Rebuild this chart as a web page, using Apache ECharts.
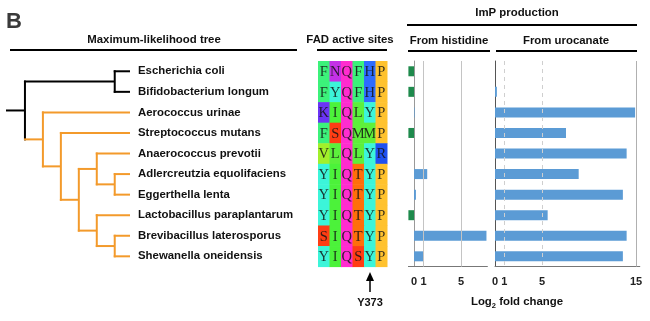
<!DOCTYPE html>
<html><head><meta charset="utf-8">
<script src="https://cdn.jsdelivr.net/npm/echarts@6/dist/echarts.min.js"></script>
<style>html,body{margin:0;padding:0;background:#fff}#c{width:650px;height:321px}</style>
</head><body><div id="c"></div>
<script>
// ---------- data ----------
const species = ['Escherichia coli','Bifidobacterium longum','Aerococcus urinae','Streptococcus mutans','Anaerococcus prevotii','Adlercreutzia equolifaciens','Eggerthella lenta','Lactobacillus paraplantarum','Brevibacillus laterosporus','Shewanella oneidensis'];
const fadSites = ['FNQFHP','FYQFHP','KIQLYP','FSQMMP','VLQLYR','YIQTYP','YIQTYP','YIQTYP','SIQTYP','YIQSYP'];
const siteColumns = ['1','2','3','4','5','6'];
const histidine = [-0.6,-0.6,0.06,-0.6,null,1.4,0.2,-0.6,7.7,1.05];
const urocanate = [null,0.2,14.9,7.55,14.0,8.9,13.6,5.6,14.0,13.6];
const histTicks = [0,1,5];
const uroTicks = [0,1,5,15];
const histGridLines = [1,5];
const uroDashedLines = [1,5];
const uroSolidLines = [15];
// tree: internal nodes [id, depth, parent]
const treeNodes = [['root',0,null],['n1',5,'root'],['n2',1,'root'],['n3',2,'n2'],['n4',3,'n3'],['n5',4,'n4'],['n6',5,'n5'],['n7',4,'n4'],['n8',5,'n7']];
const leafParents = ['n1','n1','n2','n3','n5','n6','n6','n7','n8','n8'];
const leafDepth = 5.85;
const rootStubDepth = -1;
const highlightClade = 'n2';

// ---------- styles ----------
const residueColors = {F:'#3cf27a',N:'#c431e6',Q:'#ff2ccf',H:'#2e6cff',P:'#ffc22e',Y:'#3cf5d9',K:'#6b34f5',I:'#4cf23a',L:'#5cf03c',M:'#5ef03a',S:'#ff3d14',V:'#a2f02a',R:'#2050f0',T:'#ff6f0a'};
const BLUE = '#5b9bd5', GREEN = '#1e8a4c', ORANGE = '#f39a2b';
const FONT = '"Liberation Sans", Arial, sans-serif';
const TOP = 61, H = 205.6;

// ---------- tree geometry from data ----------
const nodeInfo = {};
treeNodes.forEach(([id, depth, parent]) => nodeInfo[id] = {id, depth, parent, children: []});
treeNodes.forEach(([id, depth, parent]) => { if (parent) nodeInfo[parent].children.push({type:'node', id}); });
leafParents.forEach((p, i) => nodeInfo[p].children.push({type:'leaf', idx: i}));
function inClade(id) { let c = id; while (c) { if (c === highlightClade) return true; c = nodeInfo[c].parent; } return false; }
function nodeY(id) {
  const ys = nodeInfo[id].children.map(ch => ch.type === 'leaf' ? ch.idx : nodeY(ch.id));
  return (Math.min(...ys) + Math.max(...ys)) / 2;
}
const segments = [];
treeNodes.forEach(([id, depth]) => {
  const col = inClade(id) ? 1 : 0;
  const ys = nodeInfo[id].children.map(ch => ch.type === 'leaf' ? ch.idx : nodeY(ch.id));
  segments.push([depth, Math.min(...ys), depth, Math.max(...ys), col]);
  nodeInfo[id].children.forEach(ch => {
    if (ch.type === 'leaf') segments.push([depth, ch.idx, leafDepth, ch.idx, col]);
    else segments.push([depth, nodeY(ch.id), nodeInfo[ch.id].depth, nodeY(ch.id), inClade(ch.id) ? 1 : 0]);
  });
});
segments.push([rootStubDepth, nodeY('root'), 0, nodeY('root'), 0]);

const alignData = [];
fadSites.forEach((s, r) => s.split('').forEach((ch, c) => alignData.push([c, r, ch])));

const chart = echarts.init(document.getElementById('c'), null, {renderer: 'canvas'});
const barLabel = {show: true, fontFamily: FONT, fontWeight: 'bold', fontSize: 11, color: '#222', margin: 10};
const HF = 'bold 11.4px ' + FONT;

chart.setOption({
  animation: false,
  grid: [
    {left: 7, width: 123, top: TOP, height: H},
    {left: 318, width: 69, top: TOP, height: H},
    {left: 408.4, width: 79, top: TOP, height: H},
    {left: 495, width: 144.8, top: TOP, height: H}
  ],
  xAxis: [
    {gridIndex: 0, type: 'value', min: rootStubDepth, max: leafDepth, show: false},
    {gridIndex: 1, type: 'category', data: siteColumns, show: false},
    {gridIndex: 2, type: 'value', min: -0.6, max: 7.8, splitLine: {show: false}, axisTick: {show: false},
     axisLine: {show: true, onZero: false, lineStyle: {color: '#777', width: 1}},
     axisLabel: Object.assign({customValues: histTicks}, barLabel)},
    {gridIndex: 3, type: 'value', min: 0, max: 15.4, splitLine: {show: false}, axisTick: {show: false},
     axisLine: {show: true, onZero: false, lineStyle: {color: '#777', width: 1}},
     axisLabel: Object.assign({customValues: uroTicks}, barLabel)}
  ],
  yAxis: [
    {gridIndex: 0, type: 'value', min: -0.5, max: 9.5, inverse: true, show: false},
    {gridIndex: 0, type: 'category', data: species, inverse: true, position: 'right',
     axisLine: {show: false}, axisTick: {show: false},
     axisLabel: {margin: 8, fontFamily: FONT, fontWeight: 'bold', fontSize: 11.4, color: '#111'}},
    {gridIndex: 1, type: 'category', data: species, inverse: true, show: false},
    {gridIndex: 2, type: 'category', data: species, inverse: true, axisTick: {show: false}, axisLabel: {show: false},
     axisLine: {show: true, onZero: true, lineStyle: {color: '#999', width: 1}}},
    {gridIndex: 3, type: 'category', data: species, inverse: true, axisTick: {show: false}, axisLabel: {show: false},
     axisLine: {show: true, onZero: true, lineStyle: {color: '#555', width: 1}}}
  ],
  series: [
    {type: 'custom', xAxisIndex: 0, yAxisIndex: 0, data: segments, encode: {x: [0, 2], y: [1, 3]},
     renderItem: (params, api) => {
       const a = api.coord([api.value(0), api.value(1)]);
       const b = api.coord([api.value(2), api.value(3)]);
       const ext = 1;
       let x1 = a[0], y1 = a[1], x2 = b[0], y2 = b[1];
       if (x1 === x2) { y1 -= ext; y2 += ext; } else { x1 -= ext; }
       return {type: 'line', shape: {x1, y1, x2, y2},
         style: {stroke: api.value(4) ? ORANGE : '#000', lineWidth: 2}};
     }},
    {type: 'custom', xAxisIndex: 1, yAxisIndex: 2, data: alignData,
     renderItem: (params, api) => {
       const p = api.coord([api.value(0), api.value(1)]);
       const s = api.size([1, 1]);
       const ch = alignData[params.dataIndex][2];
       return {type: 'group', children: [
         {type: 'rect', shape: {x: p[0] - s[0] / 2, y: p[1] - s[1] / 2, width: s[0] + 0.5, height: s[1] + 0.5},
          style: {fill: residueColors[ch] || '#ccc'}},
         {type: 'text', style: {text: ch, x: p[0], y: p[1] + 1, align: 'center', verticalAlign: 'middle',
          font: '14.5px "Liberation Serif", serif', fill: 'rgba(20,20,20,0.85)'}}
       ]};
     }},
    {type: 'line', xAxisIndex: 2, yAxisIndex: 3, data: [], z: 1,
     markLine: {silent: true, symbol: 'none', label: {show: false}, animation: false,
       lineStyle: {color: '#c4c4c4', type: 'solid', width: 1},
       data: histGridLines.map(v => ({xAxis: v}))}},
    {type: 'line', xAxisIndex: 3, yAxisIndex: 4, data: [], z: 1,
     markLine: {silent: true, symbol: 'none', label: {show: false}, animation: false,
       lineStyle: {color: '#cfcfcf', type: [4, 4], width: 1},
       data: uroDashedLines.map(v => ({xAxis: v}))}},
    {type: 'line', xAxisIndex: 3, yAxisIndex: 4, data: [], z: 1,
     markLine: {silent: true, symbol: 'none', label: {show: false}, animation: false,
       lineStyle: {color: '#b0b0b0', type: 'solid', width: 1},
       data: uroSolidLines.map(v => ({xAxis: v}))}},
    {type: 'bar', xAxisIndex: 2, yAxisIndex: 3, data: histidine, barWidth: 10, z: 3,
     itemStyle: {color: p => p.value < 0 ? GREEN : BLUE}},
    {type: 'bar', xAxisIndex: 3, yAxisIndex: 4, data: urocanate, barWidth: 10, z: 3,
     itemStyle: {color: p => p.value < 0 ? GREEN : BLUE}}
  ],
  graphic: [
    {type: 'text', left: 6, top: 11, style: {text: 'B', font: 'bold 22px ' + FONT, fill: '#3a3a3a'}},
    {type: 'text', x: 154, y: 40, style: {text: 'Maximum-likelihood tree', font: HF, fill: '#111', align: 'center', verticalAlign: 'middle'}},
    {type: 'line', shape: {x1: 10, y1: 50, x2: 297, y2: 50}, style: {stroke: '#000', lineWidth: 2}},
    {type: 'text', x: 350, y: 40, style: {text: 'FAD active sites', font: HF, fill: '#111', align: 'center', verticalAlign: 'middle'}},
    {type: 'line', shape: {x1: 317, y1: 50, x2: 387, y2: 50}, style: {stroke: '#000', lineWidth: 2}},
    {type: 'text', x: 517, y: 13, style: {text: 'ImP production', font: HF, fill: '#111', align: 'center', verticalAlign: 'middle'}},
    {type: 'line', shape: {x1: 407, y1: 25, x2: 637, y2: 25}, style: {stroke: '#000', lineWidth: 2}},
    {type: 'text', x: 449, y: 41, style: {text: 'From histidine', font: HF, fill: '#111', align: 'center', verticalAlign: 'middle'}},
    {type: 'line', shape: {x1: 408, y1: 51, x2: 490, y2: 51}, style: {stroke: '#000', lineWidth: 2}},
    {type: 'text', x: 566, y: 41, style: {text: 'From urocanate', font: HF, fill: '#111', align: 'center', verticalAlign: 'middle'}},
    {type: 'line', shape: {x1: 496, y1: 51, x2: 637, y2: 51}, style: {stroke: '#000', lineWidth: 2}},
    {type: 'text', x: 517, y: 302, style: {text: 'Log{s|2} fold change', font: HF, fill: '#111', align: 'center', verticalAlign: 'middle',
      rich: {s: {font: 'bold 7.5px ' + FONT, fill: '#111', padding: [7, 0, 0, 0]}}}},
    {type: 'line', shape: {x1: 370, y1: 279, x2: 370, y2: 292}, style: {stroke: '#000', lineWidth: 1.5}},
    {type: 'polygon', shape: {points: [[370, 272], [366, 281], [374, 281]]}, style: {fill: '#000'}},
    {type: 'text', x: 370, y: 303, style: {text: 'Y373', font: 'bold 11px ' + FONT, fill: '#111', align: 'center', verticalAlign: 'middle'}}
  ]
});
</script></body></html>
